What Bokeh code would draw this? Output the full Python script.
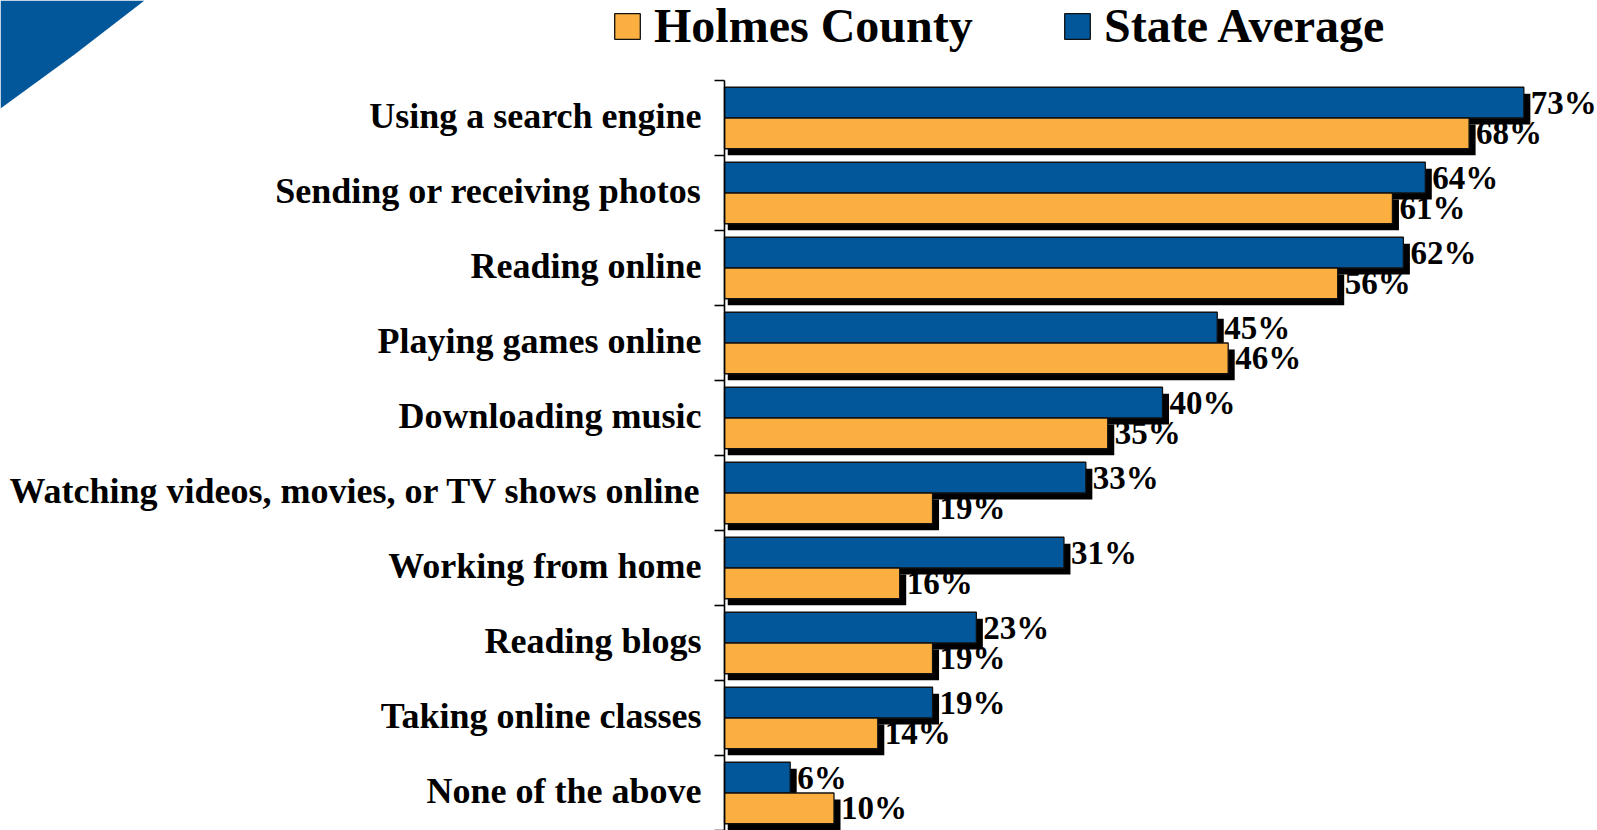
from bokeh.plotting import figure
from bokeh.models import Range1d, Legend, LegendItem
from bokeh.core.properties import value
from bokeh.embed import file_html
from bokeh.resources import INLINE

# ---- data ----
categories = [
    "Using a search engine",
    "Sending or receiving photos",
    "Reading online",
    "Playing games online",
    "Downloading music",
    "Watching videos, movies, or TV shows online",
    "Working from home",
    "Reading blogs",
    "Taking online classes",
    "None of the above",
]
state_average = [73, 64, 62, 45, 40, 33, 31, 23, 19, 6]
holmes_county = [68, 61, 56, 46, 35, 19, 16, 19, 14, 10]
series_names = ["Holmes County", "State Average"]

BLUE = "#02569A"
ORANGE = "#FBAF41"
FONT_NAME = "Liberation Serif"
FONT = value(FONT_NAME)

# ---- geometry ----
W, H = 1597, 830
PX_X = 10.95      # pixels per percent
AX = 724          # axis x (px in figure)
ROW = 75.0        # pixels per category row
TOP = 80          # first row boundary (px in figure)

x_start = -AX / PX_X
x_end = (W - AX) / PX_X
y_top = -TOP / ROW
y_bot = (H - TOP) / ROW

p = figure(width=W, height=H, x_range=Range1d(x_start, x_end),
           y_range=Range1d(y_bot, y_top), output_backend="svg",
           toolbar_location=None, min_border=0,
           x_axis_location=None, y_axis_location=None)
p.grid.visible = False
p.outline_line_color = None
p.background_fill_color = "white"

# decorative swoosh in top-left corner (pixel outline converted to data space)
sw_px = [(0, 0), (144, 0), (74, 54), (0, 108)]
p.patch([x_start + a / PX_X for a, b in sw_px], [y_top + b / ROW for a, b in sw_px],
        fill_color=BLUE, line_color=None)

n = len(categories)
centers = [i + 0.5 for i in range(n)]
bar_h = 0.41
blue_y = [c - bar_h / 2 for c in centers]
orange_y = [c + bar_h / 2 for c in centers]
dx = 6.5 / PX_X
dy = 6.5 / ROW

# shadows
p.hbar(y=[y + dy for y in blue_y], left=dx * 0.5, right=[v + dx for v in state_average],
       height=bar_h, fill_color="black", line_color=None)
p.hbar(y=[y + dy for y in orange_y], left=dx * 0.5, right=[v + dx for v in holmes_county],
       height=bar_h, fill_color="black", line_color=None)

# bars
r_state = p.hbar(y=blue_y, left=0, right=state_average, height=bar_h,
                 fill_color=BLUE, line_color="#111111", line_width=1.3)
r_holmes = p.hbar(y=orange_y, left=0, right=holmes_county, height=bar_h,
                  fill_color=ORANGE, line_color="#111111", line_width=1.3)

# axis line and ticks at category boundaries
boundaries = list(range(n + 1))
tick_len = 10 / PX_X
p.segment(x0=[0], y0=[0], x1=[0], y1=[n], line_color="black", line_width=1.6)
p.segment(x0=[-tick_len] * len(boundaries), y0=boundaries, x1=[0] * len(boundaries),
          y1=boundaries, line_color="black", line_width=1.6)

# category labels
p.text(x=[-23 / PX_X] * n, y=[c - 2 / ROW for c in centers], text=categories,
       text_align="right", text_baseline="middle", text_font=FONT,
       text_font_style="bold", text_font_size="36px", text_color="black")

# value labels
lab_off = 7.0 / PX_X
p.text(x=[v + lab_off for v in state_average], y=blue_y,
       text=[f"{v}%" for v in state_average], text_align="left",
       text_baseline="middle", text_font=FONT, text_font_style="bold",
       text_font_size="33px", text_color="black")
p.text(x=[v + lab_off for v in holmes_county], y=orange_y,
       text=[f"{v}%" for v in holmes_county], text_align="left",
       text_baseline="middle", text_font=FONT, text_font_style="bold",
       text_font_size="33px", text_color="black")

# legend (two single-item legends placed side by side)
def make_legend(label, renderer, x):
    return Legend(items=[LegendItem(label=label, renderers=[renderer])],
                  location=(x, 777), orientation="horizontal",
                  glyph_width=32, glyph_height=32, label_standoff=11,
                  label_text_font=FONT_NAME, label_text_color="black",
                  label_text_font_style="bold", label_text_font_size="48px",
                  padding=0, margin=0, border_line_color=None,
                  background_fill_alpha=0)

p.add_layout(make_legend(series_names[0], r_holmes, 611))
p.add_layout(make_legend(series_names[1], r_state, 1061))

open("out.html", "w").write(file_html(p, INLINE))
